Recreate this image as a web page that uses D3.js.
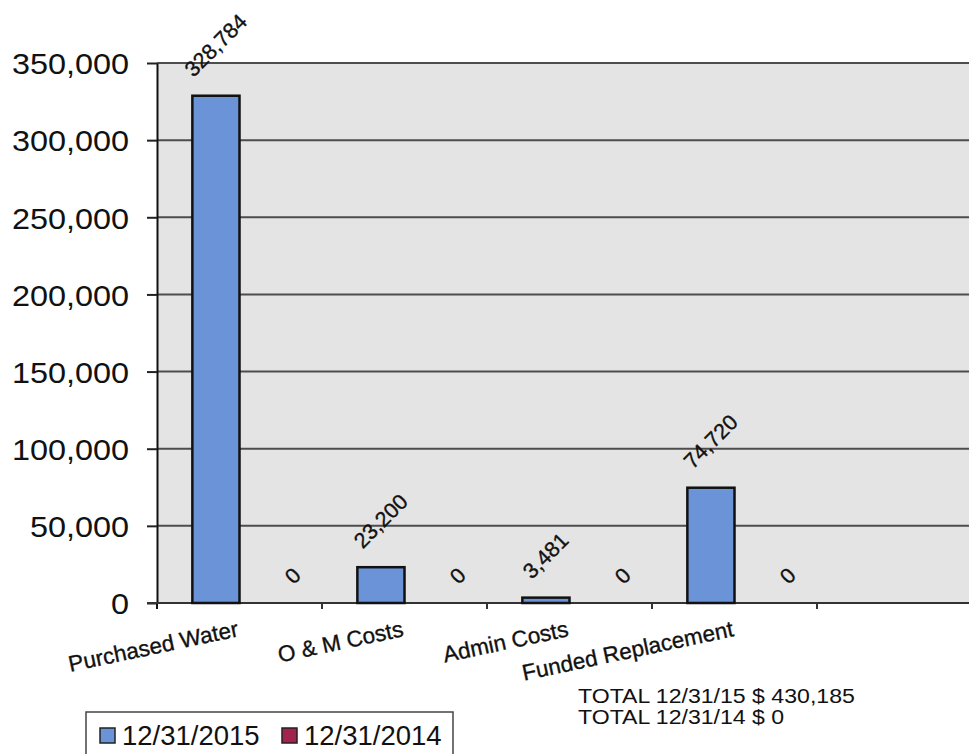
<!DOCTYPE html>
<html>
<head>
<meta charset="utf-8">
<script src="https://cdn.jsdelivr.net/npm/d3@7"></script>
<style>
  html, body { margin: 0; padding: 0; background: #fff; }
  svg { display: block; }
  text { font-family: "Liberation Sans", Arial, Helvetica, sans-serif; fill: #111; }
  .heavy { stroke: #111; stroke-width: 0.35px; }
</style>
</head>
<body>
<svg id="chart" width="969" height="754"></svg>
<script>
// ---- data ----
const categories = ["Purchased Water", "O & M Costs", "Admin Costs", "Funded Replacement", ""];
const seriesNames = ["12/31/2015", "12/31/2014"];
const values2015 = [328784, 23200, 3481, 74720, null];
const values2014 = [0, 0, 0, 0, null];
const yTicks = [0, 50000, 100000, 150000, 200000, 250000, 300000, 350000];
const totalLines = ["TOTAL 12/31/15 $ 430,185", "TOTAL 12/31/14 $ 0"];
const seriesColors = ["#6b93d8", "#a3234f"];

// ---- layout ----
const svg = d3.select("#chart");
const W = 969, H = 754;
const plot = { left: 157, top: 63, bottom: 603, catStep: 165 };

const x = d3.scaleBand()
  .domain(categories)
  .range([plot.left, plot.left + plot.catStep * categories.length])
  .paddingInner(0).paddingOuter(0);

// Excel-like gap width 150%
const gapRatio = 1.5;
const barW = x.bandwidth() / (seriesNames.length + gapRatio);
const xSub = d3.scaleBand()
  .domain(seriesNames)
  .range([barW * gapRatio / 2, barW * gapRatio / 2 + barW * seriesNames.length]);

const y = d3.scaleLinear().domain([0, 350000]).range([plot.bottom, plot.top]);
const fmt = d3.format(",");

// plot background
svg.append("rect")
  .attr("x", plot.left).attr("y", plot.top)
  .attr("width", W - plot.left).attr("height", plot.bottom - plot.top)
  .attr("fill", "#e4e4e4");

// gridlines
svg.append("g").selectAll("line").data(yTicks).join("line")
  .attr("x1", plot.left).attr("x2", W)
  .attr("y1", d => y(d)).attr("y2", d => y(d))
  .attr("stroke", "#4d4d4d").attr("stroke-width", 2);

// y axis
const yAxis = svg.append("g")
  .attr("transform", `translate(${plot.left},0)`)
  .call(d3.axisLeft(y).tickValues(yTicks).tickSize(10).tickSizeOuter(0).tickPadding(18).tickFormat(fmt));
yAxis.select(".domain").attr("stroke", "#111").attr("stroke-width", 2);
yAxis.selectAll(".tick line").attr("stroke", "#222").attr("stroke-width", 2);
yAxis.selectAll(".tick text")
  .attr("font-size", 30)
  .attr("font-family", "'Liberation Sans', Arial, sans-serif")
  .attr("fill", "#111")
  .attr("transform", "scale(1.08,1)")
  .attr("x", -28 / 1.08)
  .attr("dy", "0.36em");
svg.append("line")
  .attr("x1", plot.left).attr("x2", plot.left)
  .attr("y1", plot.bottom).attr("y2", plot.bottom + 6)
  .attr("stroke", "#111").attr("stroke-width", 2);

// x baseline
svg.append("line")
  .attr("x1", plot.left - 10).attr("x2", W)
  .attr("y1", plot.bottom).attr("y2", plot.bottom)
  .attr("stroke", "#333").attr("stroke-width", 2);

// category boundary ticks
svg.append("g").selectAll("line").data(categories.slice(1)).join("line")
  .attr("x1", d => x(d)).attr("x2", d => x(d))
  .attr("y1", plot.bottom).attr("y2", plot.bottom + 6)
  .attr("stroke", "#333").attr("stroke-width", 2);

// bars
const barData = [];
categories.forEach((c, i) => {
  [values2015, values2014].forEach((arr, s) => {
    if (arr[i] !== null && arr[i] !== undefined) {
      barData.push({ cat: c, series: seriesNames[s], s, value: arr[i] });
    }
  });
});

svg.append("g").selectAll("rect").data(barData.filter(d => d.value > 0)).join("rect")
  .attr("x", d => x(d.cat) + xSub(d.series))
  .attr("y", d => y(d.value))
  .attr("width", xSub.bandwidth())
  .attr("height", d => y(0) - y(d.value))
  .attr("fill", d => seriesColors[d.s])
  .attr("stroke", "#111").attr("stroke-width", 2.5);

// data labels (rotated -45°)
const labelDx = [0, 30];
const labelFont = 21.5;
const lbl = svg.append("g").selectAll("text").data(barData).join("text")
  .attr("class", "heavy")
  .attr("font-size", labelFont)
  .attr("text-anchor", "middle")
  .attr("dominant-baseline", "central")
  .text(d => fmt(d.value));
lbl.each(function (d) {
  const L = this.getComputedTextLength();
  const half = (L + labelFont) * 0.354;
  const cx = x(d.cat) + xSub(d.series) + xSub.bandwidth() / 2 + labelDx[d.s];
  const cy = y(d.value) - half - 15;
  d3.select(this).attr("transform", `translate(${cx},${cy}) rotate(-45)`);
});

// category labels
svg.append("g").selectAll("text").data(categories.filter(c => c !== "")).join("text")
  .attr("class", "heavy")
  .attr("font-size", 22.5)
  .attr("text-anchor", "end")
  .attr("transform", d => `translate(${x(d) + x.bandwidth() / 2},636) rotate(-12)`)
  .text(d => d);

// totals
svg.append("g").selectAll("text").data(totalLines).join("text")
  .attr("font-size", 21)
  .attr("transform", (d, i) => `translate(578,${703 + i * 21}) scale(1.1,1)`)
  .text(d => d);

// legend
const lg = svg.append("g");
lg.append("rect")
  .attr("x", 86).attr("y", 712).attr("width", 367).attr("height", 60)
  .attr("fill", "#fff").attr("stroke", "#444").attr("stroke-width", 1.5);
const legendX = [100, 282];
const li = lg.selectAll("g").data(seriesNames).join("g")
  .attr("transform", (d, i) => `translate(${legendX[i]},728)`);
li.append("rect")
  .attr("width", 15).attr("height", 15)
  .attr("fill", (d, i) => seriesColors[i])
  .attr("stroke", "#222").attr("stroke-width", 1.5);
li.append("text")
  .attr("x", 22).attr("y", 17)
  .attr("font-size", 27.5)
  .text(d => d);
</script>
</body>
</html>
